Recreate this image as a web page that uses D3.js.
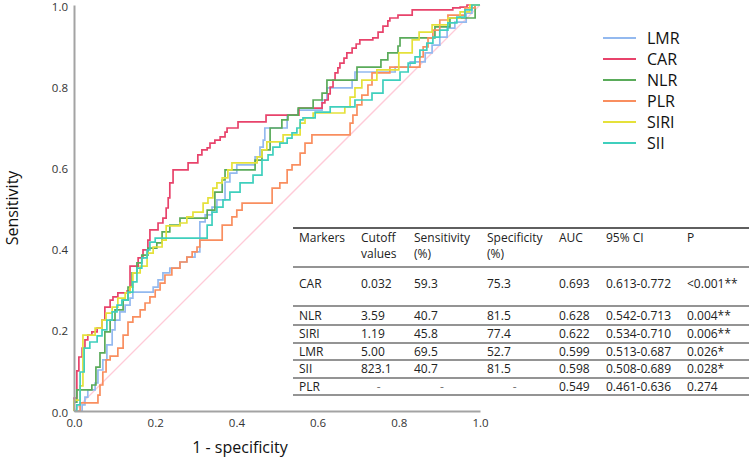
<!DOCTYPE html>
<html><head><meta charset="utf-8">
<script src="https://cdn.jsdelivr.net/npm/d3@7"></script>
<style>body{margin:0;background:#fff}svg{display:block;font-family:"Open Sans",sans-serif}</style>
</head><body><svg id="c" width="749" height="464"></svg>
<script>
// ---------- data ----------
const markers = ["LMR","CAR","NLR","PLR","SIRI","SII"];
const colors  = ["#93b9ef","#e8436b","#5aab5a","#f98e5f","#e5e13a","#3fcfbd"];

// ROC points [1 - specificity, sensitivity] (step after each point)
const LMR = [[0,0],[.020,.015],[.027,.034],[.034,.052],[.052,.069],[.059,.101],[.071,.126],[.081,.163],[.094,.200],[.101,.224],[.113,.244],[.126,.261],[.138,.278],[.145,.293],[.195,.305],[.207,.323],[.219,.340],[.236,.352],[.261,.367],[.278,.379],[.298,.392],[.310,.466],[.323,.483],[.340,.502],[.352,.520],[.372,.564],[.384,.586],[.401,.606],[.446,.626],[.458,.650],[.466,.667],[.470,.697],[.525,.729],[.552,.741],[.611,.766],[.623,.796],[.685,.815],[.692,.835],[.791,.847],[.828,.860],[.865,.882],[.882,.901],[.901,.921],[.919,.943],[.938,.958],[.966,.980],[.980,1],[1,1]];
const CAR = [[0,.032],[.007,.099],[.012,.133],[.020,.155],[.027,.175],[.034,.187],[.044,.195],[.057,.204],[.069,.224],[.076,.256],[.089,.273],[.096,.281],[.108,.291],[.131,.296],[.138,.357],[.158,.377],[.170,.397],[.182,.421],[.187,.446],[.207,.463],[.219,.475],[.227,.500],[.232,.525],[.236,.562],[.244,.594],[.281,.611],[.305,.631],[.315,.643],[.328,.648],[.335,.660],[.347,.667],[.360,.675],[.372,.687],[.377,.697],[.404,.712],[.473,.729],[.554,.746],[.611,.759],[.618,.766],[.626,.781],[.631,.798],[.638,.815],[.643,.833],[.650,.845],[.655,.857],[.665,.869],[.672,.882],[.685,.894],[.695,.904],[.704,.914],[.736,.919],[.749,.933],[.761,.948],[.773,.961],[.778,.968],[.798,.975],[.833,.988],[.933,.993],[.951,.995],[.968,1],[1,1]];
const NLR = [[0,.022],[.007,.052],[.044,.064],[.054,.108],[.064,.143],[.076,.195],[.089,.224],[.101,.249],[.121,.273],[.133,.305],[.143,.340],[.155,.365],[.167,.384],[.182,.401],[.204,.414],[.217,.441],[.236,.458],[.261,.475],[.328,.495],[.347,.539],[.365,.569],[.372,.594],[.446,.618],[.463,.643],[.483,.697],[.512,.717],[.527,.729],[.552,.746],[.589,.766],[.611,.783],[.623,.815],[.697,.847],[.756,.865],[.773,.882],[.798,.899],[.803,.919],[.889,.946],[.926,.968],[.988,1],[1,1]];
const PLR = [[0,0],[.015,.020],[.059,.039],[.064,.064],[.071,.096],[.079,.126],[.089,.135],[.108,.155],[.121,.187],[.133,.219],[.145,.232],[.163,.249],[.175,.266],[.187,.281],[.200,.298],[.212,.315],[.224,.335],[.241,.352],[.261,.367],[.278,.379],[.291,.392],[.303,.404],[.310,.421],[.365,.458],[.389,.478],[.401,.495],[.414,.512],[.488,.549],[.507,.562],[.525,.594],[.537,.606],[.557,.635],[.569,.660],[.586,.680],[.680,.709],[.687,.729],[.697,.754],[.709,.778],[.724,.803],[.734,.833],[.778,.847],[.852,.872],[.860,.897],[.872,.919],[.884,.938],[.901,.963],[.921,.975],[.963,.993],[.988,1],[1,1]];
const SIRI = [[0,.027],[.015,.062],[.022,.187],[.052,.204],[.069,.224],[.079,.241],[.094,.256],[.108,.278],[.126,.291],[.138,.305],[.145,.340],[.163,.357],[.180,.389],[.195,.404],[.217,.421],[.227,.456],[.261,.463],[.278,.478],[.293,.490],[.318,.512],[.330,.525],[.342,.549],[.352,.562],[.365,.574],[.379,.594],[.389,.611],[.451,.626],[.463,.643],[.475,.663],[.515,.680],[.557,.709],[.569,.722],[.589,.734],[.667,.749],[.680,.773],[.692,.796],[.709,.815],[.746,.840],[.800,.882],[.833,.914],[.850,.933],[.882,.951],[.921,.968],[.951,.983],[.975,1],[1,1]];
const SII = [[0,0],[.007,.015],[.015,.096],[.025,.155],[.039,.170],[.057,.185],[.069,.200],[.081,.224],[.094,.244],[.106,.261],[.118,.273],[.133,.293],[.145,.318],[.155,.352],[.167,.377],[.180,.397],[.187,.416],[.200,.426],[.328,.458],[.340,.490],[.352,.502],[.367,.520],[.384,.539],[.409,.562],[.441,.581],[.463,.618],[.478,.631],[.490,.650],[.507,.660],[.525,.672],[.537,.685],[.549,.697],[.557,.717],[.564,.722],[.594,.736],[.631,.749],[.692,.766],[.734,.783],[.761,.815],[.803,.835],[.823,.857],[.840,.872],[.852,.889],[.869,.906],[.884,.921],[.901,.938],[.921,.956],[.943,.970],[.963,.988],[.980,1],[1,1]];
const seriesData = [LMR, CAR, NLR, PLR, SIRI, SII];

const xTicks = [0, 0.2, 0.4, 0.6, 0.8, 1.0];
const yTicks = [0, 0.2, 0.4, 0.6, 0.8, 1.0];
const xTitle = "1 - specificity";
const yTitle = "Sensitivity";

const tableHeader = [["Markers"],["Cutoff","values"],["Sensitivity","(%)"],["Specificity","(%)"],["AUC"],["95% CI"],["P"]];
const tableMarkers = ["CAR","NLR","SIRI","LMR","SII","PLR"];
const cutoff      = ["0.032","3.59","1.19","5.00","823.1","-"];
const sensitivity = ["59.3","40.7","45.8","69.5","40.7","-"];
const specificity = ["75.3","81.5","77.4","52.7","81.5","-"];
const auc         = ["0.693","0.628","0.622","0.599","0.598","0.549"];
const ci95        = ["0.613-0.772","0.542-0.713","0.534-0.710","0.513-0.687","0.508-0.689","0.461-0.636"];
const pValue      = ["<0.001**","0.004**","0.006**","0.026*","0.028*","0.274"];

// ---------- layout ----------
const svg = d3.select("#c");
const x = d3.scaleLinear().domain([0,1]).range([74,480]);
const y = d3.scaleLinear().domain([0,1]).range([411,5]);

// reference diagonal
svg.append("line")
  .attr("x1", x(0)).attr("y1", y(0)).attr("x2", x(1)).attr("y2", y(1))
  .attr("stroke", "#ffcad8").attr("stroke-width", 1.3);

// curves
const line = d3.line().x(d => x(d[0])).y(d => y(d[1])).curve(d3.curveStepAfter);
seriesData.forEach((s, i) => {
  svg.append("path").datum([[0,0]].concat(s))
    .attr("d", line).attr("fill","none")
    .attr("stroke", colors[i]).attr("stroke-width", 1.7)
    .attr("stroke-linejoin","miter");
});

// axes
const fmt = d3.format(".1f");
const gy = svg.append("g").attr("transform", `translate(${x(0)},0)`)
  .call(d3.axisLeft(y).tickValues(yTicks).tickFormat(fmt).tickSize(0).tickPadding(6));
const gx = svg.append("g").attr("transform", `translate(0,${y(0)})`)
  .call(d3.axisBottom(x).tickValues(xTicks).tickFormat(fmt).tickSize(0).tickPadding(8));
[gx, gy].forEach(g => {
  g.select(".domain").attr("stroke", "#a3a3a3").attr("stroke-width", 2);
  g.selectAll("text").attr("font-family", '"Open Sans",sans-serif').attr("font-size", 11.5).attr("fill", "#333");
});
gy.selectAll("text").attr("dy", "0.45em");

svg.append("text").attr("transform", `translate(18,${(y(0)+y(1))/2}) rotate(-90)`)
  .attr("text-anchor","middle").attr("font-size",16).attr("fill","#111").text(yTitle);
svg.append("text").attr("x", 240).attr("y", 453)
  .attr("text-anchor","middle").attr("font-size",16).attr("fill","#111").text(xTitle);

// legend
const lg = svg.append("g");
markers.forEach((m, i) => {
  const ly = 38 + i * 21;
  lg.append("line").attr("x1",603).attr("x2",636).attr("y1",ly).attr("y2",ly)
    .attr("stroke", colors[i]).attr("stroke-width", 2.2);
  lg.append("text").attr("x",647).attr("y",ly + 5.8).attr("font-size",16).attr("fill","#111").text(m);
});

// table
const tb = svg.append("g").attr("font-size", 12).attr("fill", "#222");
const colX = [299, 361, 414, 487, 559, 606, 687];
const hLines = [228, 267, 306, 325, 343, 360, 378, 395];
hLines.forEach((ly, i) => {
  tb.append("line").attr("x1",293).attr("x2",749).attr("y1",ly).attr("y2",ly)
    .attr("stroke","#2a2a2a").attr("stroke-width", i === 0 ? 1.6 : 1.1);
});
const headerWidths = [];
tableHeader.forEach((lines, c) => {
  let w = 0;
  lines.forEach((t, k) => {
    const el = tb.append("text").attr("x", colX[c]).attr("y", 238 + k*16 + 4.3).text(t);
    w = Math.max(w, el.node().getComputedTextLength());
  });
  headerWidths.push(w);
});
const rowY = [284, 316, 334, 352, 369, 387];
const cols = [tableMarkers, cutoff, sensitivity, specificity, auc, ci95, pValue];
rowY.forEach((ry, r) => {
  cols.forEach((col, c) => {
    const v = col[r];
    const t = tb.append("text").attr("y", ry + 4.3).text(v);
    if (v === "-") t.attr("x", colX[c] + headerWidths[c]/2).attr("text-anchor","middle").attr("fill","#777");
    else t.attr("x", colX[c]);
  });
});
</script></body></html>
